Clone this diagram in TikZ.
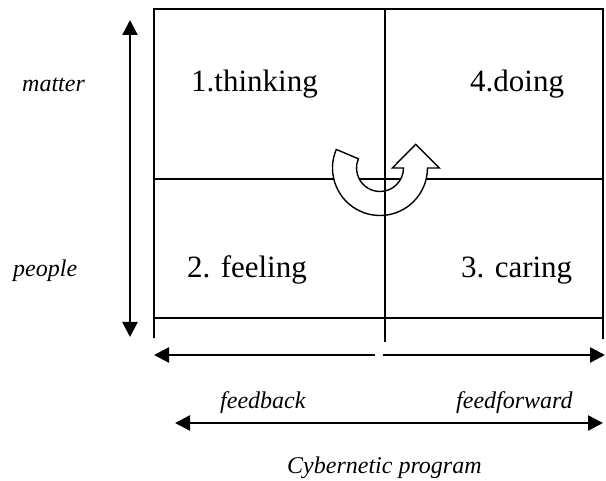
\documentclass[tikz,border=0pt]{standalone}
\usepackage{fontspec}
\setmainfont{Liberation Serif}
\usetikzlibrary{arrows.meta}
\begin{document}
\begin{tikzpicture}[x=1pt,y=1pt,
  gridline/.style={line width=1.4pt},
  bigarrow/.style={line width=2.4pt,-{Triangle[length=15pt,width=15pt]}},
  twoway/.style={line width=2.4pt,{Triangle[length=15pt,width=15pt]}-{Triangle[length=15pt,width=15pt]}},
  quadrant/.style={font=\fontsize{31}{37}\selectfont,anchor=base west,inner sep=0pt},
  axislabel/.style={font=\fontsize{24}{28}\selectfont\itshape,anchor=base west,inner sep=0pt}]
\useasboundingbox (0,0) rectangle (606,481);

% outer frame and the two horizontal rules
\draw[gridline] (154,143) -- (154,472) -- (603,472) -- (603,142);
\draw[gridline] (154,302) -- (603,302);
\draw[gridline] (154,163) -- (603,163);

% U-turn arrow in the middle of the grid
\draw[line width=1.4pt,fill=white] (380,313) ++(157:47.5)
  arc[start angle=157,end angle=360,radius=47.5]
  -- (439.3,313) -- (415.7,336.7) -- (392.3,313) -- (403.5,313)
  arc[start angle=0,end angle=-203,radius=23.5] -- cycle;

% central vertical rule
\draw[gridline] (385,472) -- (385,139);

% quadrant labels
\node[quadrant] (thinking) at (191,389) {1.thinking};
\node[quadrant] (doing) at (470,389) {4.doing};
\node[quadrant] (feeling) at (187,203) {2. feeling};
\node[quadrant] (caring) at (461,203) {3. caring};

% side labels
\node[axislabel] (matter) at (22,389) {matter};
\node[axislabel] (people) at (13,204) {people};

% vertical axis arrow
\coordinate (vtop) at (130,461);
\coordinate (vbot) at (130,144);
\draw[twoway] (vbot) -- (vtop);

% feedback / feedforward split arrows
\coordinate (fbstart) at (375,126);
\coordinate (fbend) at (154,126);
\coordinate (ffstart) at (383,126);
\coordinate (ffend) at (605,126);
\draw[bigarrow] (fbstart) -- (fbend);
\draw[bigarrow] (ffstart) -- (ffend);

\node[axislabel] (feedback) at (220,72) {feedback};
\node[axislabel] (feedforward) at (456,72) {feedforward};

% program axis
\coordinate (pleft) at (175,58);
\coordinate (pright) at (603,58);
\draw[twoway] (pleft) -- (pright);

\node[axislabel] (program) at (287,7) {Cybernetic program};
\end{tikzpicture}
\end{document}
